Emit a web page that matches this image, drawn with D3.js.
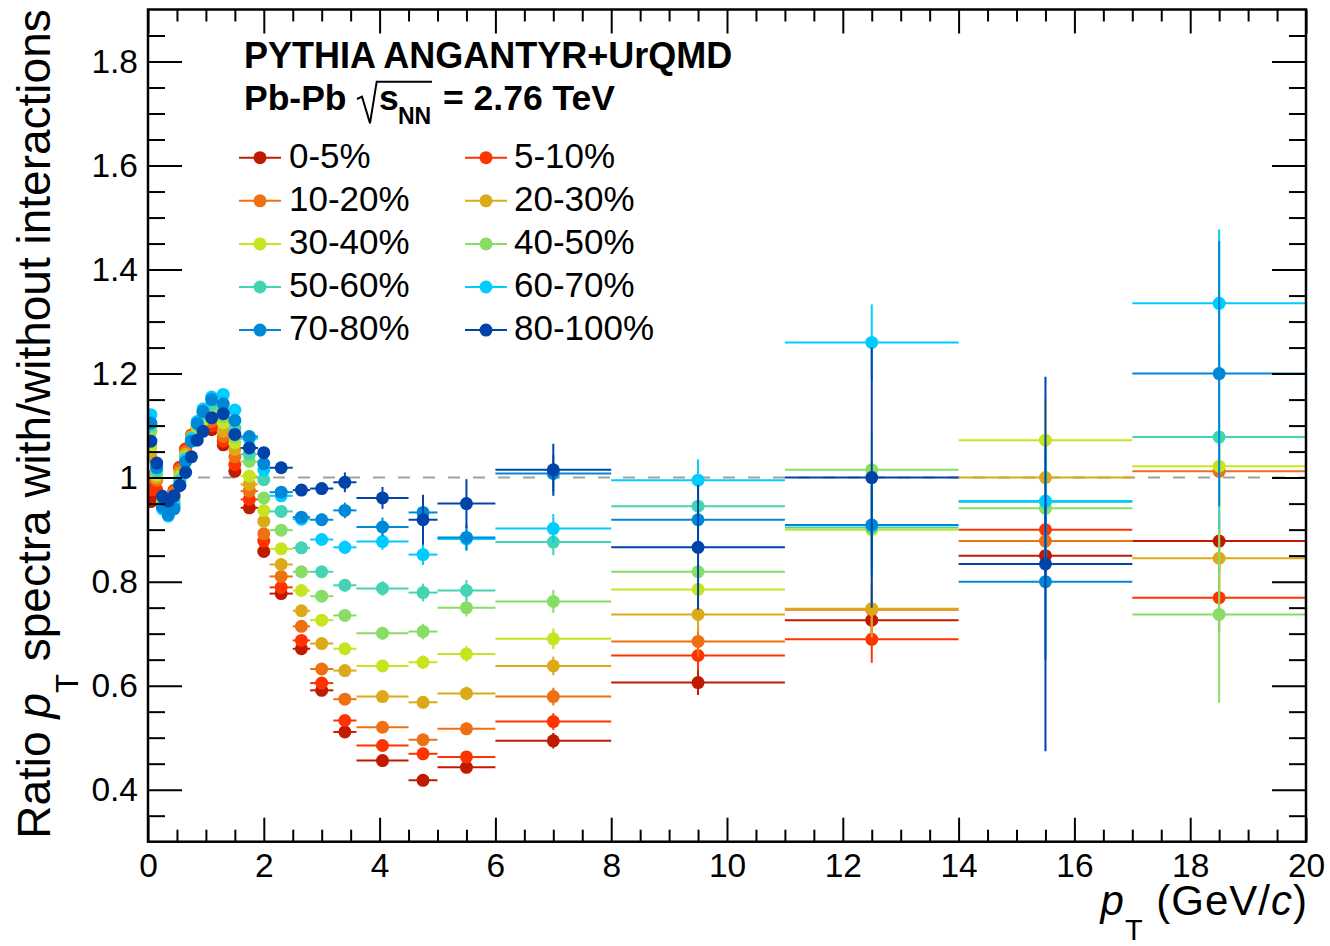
<!DOCTYPE html>
<html><head><meta charset="utf-8">
<script src="https://cdn.jsdelivr.net/npm/d3@7"></script>
<style>body{margin:0;background:#fff} svg{display:block}</style>
</head><body>
<svg id="c" width="1330" height="946"></svg>
<script>
// ---------- DATA ----------
const ptCenter = [0.05,0.15,0.25,0.35,0.45,0.55,0.65,0.75,0.85,0.95,1.1,1.3,1.5,1.75,2.0,2.3,2.65,3.0,3.4,4.05,4.75,5.5,7,9.5,12.5,15.5,18.5];
const ptLow    = [0,0.1,0.2,0.3,0.4,0.5,0.6,0.7,0.8,0.9,1.0,1.2,1.4,1.6,1.9,2.1,2.5,2.8,3.2,3.6,4.5,5,6,8,11,14,17];
const ptHigh   = [0.1,0.2,0.3,0.4,0.5,0.6,0.7,0.8,0.9,1.0,1.2,1.4,1.6,1.9,2.1,2.5,2.8,3.2,3.6,4.5,5,6,8,11,14,17,20];

const centralityLabels = ["0-5%","5-10%","10-20%","20-30%","30-40%","40-50%","50-60%","60-70%","70-80%","80-100%"];

const ratio_0_5    = [0.954,0.958,0.948,0.945,0.975,1.020,1.055,1.080,1.092,1.097,1.092,1.063,1.012,0.942,0.858,0.777,0.671,0.591,0.511,0.456,0.418,0.443,0.494,0.606,0.726,0.850,0.878];
const ratio_5_10   = [0.977,0.977,0.955,0.950,0.975,1.020,1.055,1.082,1.095,1.100,1.100,1.070,1.025,0.958,0.878,0.789,0.687,0.605,0.533,0.485,0.469,0.463,0.531,0.658,0.689,0.900,0.769];
const ratio_10_20  = [1.002,0.995,0.960,0.952,0.972,1.015,1.050,1.080,1.095,1.103,1.108,1.079,1.040,0.974,0.892,0.810,0.714,0.632,0.574,0.520,0.496,0.517,0.579,0.685,0.746,0.878,1.012];
const ratio_20_30  = [1.041,1.000,0.956,0.945,0.965,1.008,1.045,1.078,1.095,1.108,1.118,1.089,1.054,0.987,0.916,0.833,0.744,0.681,0.629,0.579,0.568,0.585,0.638,0.737,0.748,1.000,0.845];
const ratio_30_40  = [1.058,1.005,0.950,0.940,0.960,1.002,1.040,1.075,1.097,1.112,1.125,1.105,1.067,1.003,0.937,0.863,0.783,0.726,0.671,0.638,0.645,0.661,0.690,0.785,0.900,1.072,1.022];
const ratio_40_50  = [1.089,1.010,0.946,0.935,0.955,0.998,1.038,1.073,1.100,1.118,1.132,1.117,1.078,1.031,0.961,0.899,0.819,0.772,0.735,0.701,0.704,0.750,0.762,0.819,1.015,0.941,0.737];
const ratio_50_60  = [1.100,1.012,0.942,0.930,0.950,0.995,1.036,1.072,1.103,1.124,1.142,1.130,1.095,1.045,0.996,0.935,0.865,0.819,0.793,0.787,0.779,0.783,0.876,0.945,0.904,0.953,1.078];
const ratio_60_70  = [1.121,1.020,0.940,0.926,0.945,0.992,1.035,1.075,1.108,1.132,1.155,1.160,1.130,1.075,1.015,0.965,0.920,0.881,0.866,0.877,0.852,0.882,0.902,0.995,1.260,0.955,1.335];
const ratio_70_80  = [1.105,1.019,0.944,0.929,0.940,0.985,1.030,1.070,1.104,1.127,1.150,1.142,1.110,1.079,1.027,0.972,0.924,0.919,0.937,0.905,0.933,0.885,1.008,0.919,0.909,0.800,1.200];
const ratio_80_100 = [1.070,1.028,0.964,0.955,0.965,0.985,1.010,1.040,1.072,1.089,1.115,1.123,1.083,1.057,1.048,1.019,0.976,0.979,0.991,0.961,0.919,0.950,1.015,0.866,1.000,0.834,null];

const err_0_5    = [0.003,0.003,0.003,0.003,0.003,0.003,0.003,0.003,0.003,0.003,0.003,0.003,0.003,0.003,0.003,0.004,0.005,0.006,0.007,0.008,0.010,0.010,0.015,0.024,0.040,0.050,0.060];
const err_5_10   = [0.003,0.003,0.003,0.003,0.003,0.003,0.003,0.003,0.003,0.003,0.003,0.003,0.003,0.003,0.003,0.004,0.005,0.006,0.007,0.008,0.010,0.011,0.016,0.028,0.045,0.055,0.065];
const err_10_20  = [0.003,0.003,0.003,0.003,0.003,0.003,0.003,0.003,0.003,0.003,0.003,0.003,0.003,0.003,0.003,0.004,0.005,0.006,0.008,0.009,0.011,0.012,0.017,0.030,0.050,0.060,0.070];
const err_20_30  = [0.003,0.003,0.003,0.003,0.003,0.003,0.003,0.003,0.003,0.003,0.003,0.003,0.003,0.003,0.004,0.005,0.006,0.007,0.008,0.010,0.012,0.013,0.018,0.033,0.055,0.065,0.080];
const err_30_40  = [0.003,0.003,0.003,0.003,0.003,0.003,0.003,0.003,0.003,0.003,0.003,0.003,0.003,0.003,0.004,0.005,0.006,0.008,0.009,0.011,0.013,0.015,0.020,0.038,0.060,0.080,0.100];
const err_40_50  = [0.003,0.003,0.003,0.003,0.003,0.003,0.003,0.003,0.003,0.003,0.003,0.003,0.003,0.004,0.004,0.005,0.007,0.009,0.010,0.012,0.015,0.017,0.022,0.040,0.070,0.090,0.170];
const err_50_60  = [0.003,0.003,0.003,0.003,0.003,0.003,0.003,0.003,0.003,0.003,0.003,0.003,0.003,0.004,0.005,0.006,0.008,0.010,0.012,0.014,0.017,0.020,0.025,0.045,0.080,0.100,0.177];
const err_60_70  = [0.003,0.003,0.003,0.003,0.003,0.003,0.003,0.003,0.003,0.003,0.003,0.003,0.004,0.004,0.005,0.006,0.009,0.011,0.013,0.016,0.020,0.022,0.028,0.040,0.073,0.110,0.142];
const err_70_80  = [0.003,0.003,0.003,0.003,0.003,0.003,0.003,0.003,0.003,0.003,0.003,0.003,0.004,0.005,0.006,0.007,0.010,0.012,0.015,0.018,0.022,0.025,0.035,0.060,0.100,0.150,0.255];
const err_80_100 = [0.003,0.003,0.003,0.003,0.003,0.003,0.003,0.003,0.003,0.003,0.003,0.004,0.005,0.006,0.007,0.008,0.011,0.012,0.019,0.021,0.048,0.047,0.050,0.120,0.250,0.360,null];

const xTicks = [0,2,4,6,8,10,12,14,16,18,20];
const xTickLabels = ["0","2","4","6","8","10","12","14","16","18","20"];
const yTicks = [0.4,0.6,0.8,1.0,1.2,1.4,1.6,1.8];
const yTickLabels = ["0.4","0.6","0.8","1","1.2","1.4","1.6","1.8"];

// ---------- STYLE ----------
const colors = ["#c01a00","#ff3300","#ee7010","#dcaa18","#c8e41e","#88dd66","#44d4b4","#00ccff","#0088d8","#0044aa"];
const font = "'Liberation Sans', Arial, Helvetica, sans-serif";

const seriesValues = [ratio_0_5,ratio_5_10,ratio_10_20,ratio_20_30,ratio_30_40,ratio_40_50,ratio_50_60,ratio_60_70,ratio_70_80,ratio_80_100];
const seriesErrors = [err_0_5,err_5_10,err_10_20,err_20_30,err_30_40,err_40_50,err_50_60,err_60_70,err_70_80,err_80_100];

const M = {left:148, right:1306, top:9.5, bottom:841.7};
const x = d3.scaleLinear().domain([0,20]).range([M.left,M.right]);
const y = d3.scaleLinear().domain([0.3,1.9]).range([M.bottom,M.top]);

const svg = d3.select('#c').style('font-family', font);

svg.append('defs').append('clipPath').attr('id','clip')
  .append('rect').attr('x',M.left).attr('y',M.top).attr('width',M.right-M.left).attr('height',M.bottom-M.top);

// reference line at 1
svg.append('line').attr('x1',x(0)).attr('x2',x(20)).attr('y1',y(1)).attr('y2',y(1))
  .attr('stroke','#a0a0a0').attr('stroke-width',2).attr('stroke-dasharray','12,13');

const plot = svg.append('g').attr('clip-path','url(#clip)');
seriesValues.forEach((vals,i)=>{
  const col = colors[i];
  const pts = ptCenter.map((c,j)=>({c, lo:ptLow[j], hi:ptHigh[j], v:vals[j], e:seriesErrors[i][j]||0}))
                      .filter(d=>d.v!=null);
  const g = plot.append('g');
  g.selectAll('line.h').data(pts).join('line').attr('class','h')
    .attr('x1',d=>x(d.lo)).attr('x2',d=>x(d.hi)).attr('y1',d=>y(d.v)).attr('y2',d=>y(d.v))
    .attr('stroke',col).attr('stroke-width',2);
  g.selectAll('line.v').data(pts).join('line').attr('class','v')
    .attr('x1',d=>x(d.c)).attr('x2',d=>x(d.c)).attr('y1',d=>y(d.v-d.e)).attr('y2',d=>y(d.v+d.e))
    .attr('stroke',col).attr('stroke-width',2);
  g.selectAll('circle').data(pts).join('circle')
    .attr('cx',d=>x(d.c)).attr('cy',d=>y(d.v)).attr('r',6.5).attr('fill',col);
});

// axes
function styleAxis(g){
  g.select('.domain').remove();
  g.selectAll('line').attr('stroke','#000').attr('stroke-width',2);
  g.selectAll('text').attr('font-family',font).attr('font-size',33.5).attr('fill','#000');
}
const xMinor = d3.range(0,20.01,0.5).filter(v=>Math.abs(v/2-Math.round(v/2))>1e-6);
const yMinor = d3.range(0.35,1.9,0.05).map(v=>+v.toFixed(2)).filter(v=>Math.abs(v/0.2-Math.round(v/0.2))>1e-6);

svg.append('g').attr('transform',`translate(0,${M.bottom})`)
  .call(d3.axisBottom(x).tickValues(xTicks).tickSize(-24).tickPadding(12).tickFormat((d,i)=>xTickLabels[i])).call(styleAxis);
svg.append('g').attr('transform',`translate(0,${M.bottom})`)
  .call(d3.axisBottom(x).tickValues(xMinor).tickSize(-12).tickFormat('')).call(styleAxis);
svg.append('g').attr('transform',`translate(0,${M.top})`)
  .call(d3.axisTop(x).tickValues(xTicks).tickSize(-24).tickFormat('')).call(styleAxis);
svg.append('g').attr('transform',`translate(0,${M.top})`)
  .call(d3.axisTop(x).tickValues(xMinor).tickSize(-12).tickFormat('')).call(styleAxis);

svg.append('g').attr('transform',`translate(${M.left},0)`)
  .call(d3.axisLeft(y).tickValues(yTicks).tickSize(-34).tickPadding(10).tickFormat((d,i)=>yTickLabels[i])).call(styleAxis);
svg.append('g').attr('transform',`translate(${M.left},0)`)
  .call(d3.axisLeft(y).tickValues(yMinor).tickSize(-17).tickFormat('')).call(styleAxis);
svg.append('g').attr('transform',`translate(${M.right},0)`)
  .call(d3.axisRight(y).tickValues(yTicks).tickSize(-34).tickFormat('')).call(styleAxis);
svg.append('g').attr('transform',`translate(${M.right},0)`)
  .call(d3.axisRight(y).tickValues(yMinor).tickSize(-17).tickFormat('')).call(styleAxis);

svg.append('rect').attr('x',M.left).attr('y',M.top).attr('width',M.right-M.left).attr('height',M.bottom-M.top)
  .attr('fill','none').attr('stroke','#000').attr('stroke-width',2.5);

// axis titles
const xt = svg.append('text').attr('x',1308).attr('y',915).attr('text-anchor','end')
  .attr('font-size',42).attr('letter-spacing',1).attr('fill','#000');
xt.append('tspan').attr('font-style','italic').text('p');
xt.append('tspan').attr('font-size',29).attr('dy',25).text('T');
xt.append('tspan').attr('dy',-25).text(' (GeV/');
xt.append('tspan').attr('font-style','italic').text('c');
xt.append('tspan').text(')');

const yt = svg.append('text').attr('transform','translate(50,424) rotate(-90)').attr('text-anchor','middle').attr('font-size',46).attr('fill','#000');
yt.append('tspan').text('Ratio ');
yt.append('tspan').attr('font-style','italic').text('p');
yt.append('tspan').attr('font-size',31).attr('dy',28).text('T');
yt.append('tspan').attr('dy',-28).text(' spectra with/without interactions');

// header text
svg.append('text').attr('x',244).attr('y',68).attr('font-size',36).attr('font-weight','bold').text('PYTHIA ANGANTYR+UrQMD');
svg.append('text').attr('x',244).attr('y',110).attr('font-size',35.5).attr('font-weight','bold').text('Pb-Pb');
svg.append('path').attr('d','M357,99 L362,96.7 L370,123.3 L376.7,81.7 L432,81.7')
  .attr('fill','none').attr('stroke','#000').attr('stroke-width',2);
svg.append('text').attr('x',379).attr('y',110).attr('font-size',35.5).attr('font-weight','bold').text('s');
svg.append('text').attr('x',398).attr('y',124).attr('font-size',23).attr('font-weight','bold').text('NN');
svg.append('text').attr('x',443).attr('y',110).attr('font-size',35.5).attr('font-weight','bold').text('= 2.76 TeV');

// legend
const legX = [260,486], legTextX = [289,514], legY0 = 157.7, legDY = 43.1;
centralityLabels.forEach((lab,i)=>{
  const cx = legX[i%2], cy = legY0 + Math.floor(i/2)*legDY;
  const g = svg.append('g');
  g.append('line').attr('x1',cx-21).attr('x2',cx+21).attr('y1',cy).attr('y2',cy).attr('stroke',colors[i]).attr('stroke-width',2);
  g.append('circle').attr('cx',cx).attr('cy',cy).attr('r',6.5).attr('fill',colors[i]);
  g.append('text').attr('x',legTextX[i%2]).attr('y',cy+10).attr('font-size',35).attr('fill','#000').text(lab);
});
</script>
</body></html>
